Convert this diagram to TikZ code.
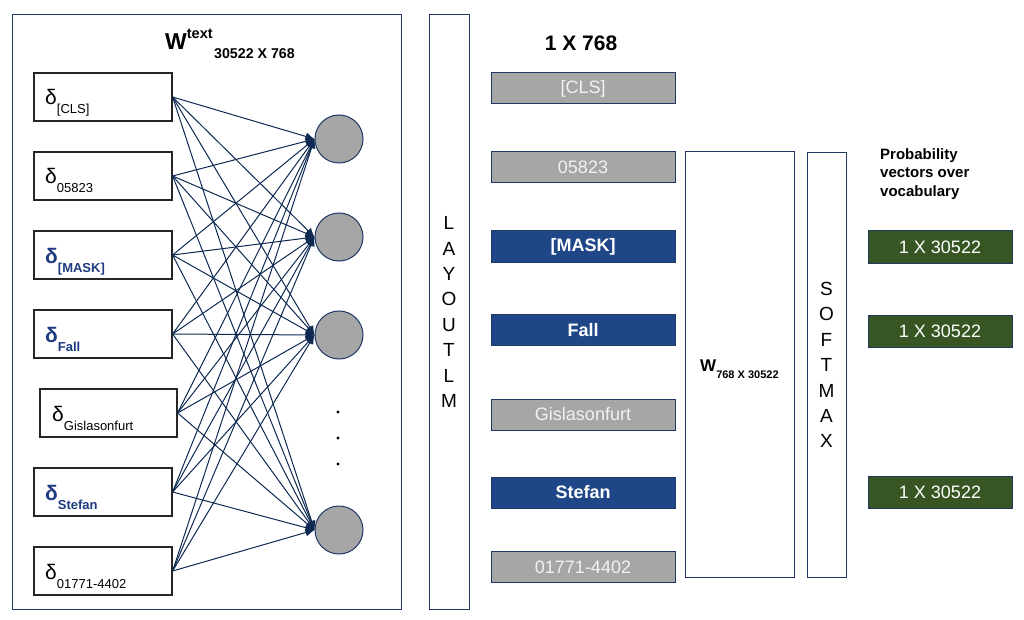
\documentclass[tikz,border=0pt]{standalone}
\usepackage{fontspec}
\setmainfont{Liberation Sans}
\usetikzlibrary{arrows.meta}
\definecolor{navy}{HTML}{1F3864}
\definecolor{edgecol}{HTML}{0E2A52}
\definecolor{tokblue}{HTML}{1F4788}
\definecolor{tokgray}{HTML}{A6A6A6}
\definecolor{toktext}{HTML}{F2F2F2}
\definecolor{probgreen}{HTML}{375623}
\definecolor{deltablue}{HTML}{1E3A80}
\newcommand\dsub[1]{\raisebox{-9pt}{\fontsize{13}{13}\selectfont #1}}
\newcommand\dsym{{\fontsize{21}{21}\selectfont δ}}
\begin{document}
\begin{tikzpicture}[x=1pt,y=-1pt,
  frame/.style={draw=navy, line width=1pt, inner sep=0pt},
  inbox/.style={draw=black!85, line width=1.2pt, minimum width=138pt, minimum height=48pt, inner sep=0pt},
  inlab/.style={anchor=base west, inner sep=0pt},
  bluelab/.style={inlab, text=deltablue, font=\bfseries},
  neuron/.style={circle, draw=navy, line width=1pt, fill=tokgray, minimum size=48pt, inner sep=0pt},
  edge/.style={draw=edgecol, line width=1pt, -{Latex[length=9pt,width=8pt]}},
  tokbase/.style={draw=navy, line width=1pt, minimum width=184pt, minimum height=31pt, inner sep=0pt, font=\fontsize{18}{18}\selectfont},
  tokg/.style={tokbase, fill=tokgray, text=toktext},
  tokb/.style={tokbase, fill=tokblue, text=white, font=\fontsize{18}{18}\selectfont\bfseries},
  probbox/.style={draw=navy, line width=1pt, fill=probgreen, text=white, minimum width=144pt, minimum height=32pt, inner sep=0pt, font=\fontsize{18}{18}\selectfont},
  vlet/.style={align=center, font=\fontsize{19}{25.4}\selectfont}
]
\useasboundingbox (0,0) rectangle (1024,620);
\fill[white] (0,0) rectangle (1024,620);

% left frame
\node[frame, minimum width=389pt, minimum height=594pt] (wframe) at (206.5,312) {};
\node[anchor=base west, inner sep=0pt] (wtitle) at (165,50)
  {{\fontsize{23}{23}\selectfont\bfseries W}\raisebox{11pt}{\fontsize{14.5}{14.5}\selectfont\bfseries text}\hspace{1.5pt}\raisebox{-9pt}{\fontsize{14.2}{14.2}\selectfont\bfseries 30522 X 768}};

% input boxes
\node[inbox] (in1) at (103,97) {};
\node[inbox] (in2) at (103,176) {};
\node[inbox] (in3) at (103,255) {};
\node[inbox] (in4) at (103,334) {};
\node[inbox, minimum width=137pt] (in5) at (108.5,413) {};
\node[inbox] (in6) at (103,492) {};
\node[inbox] (in7) at (103,571) {};

\node[inlab] (l1) at (45,105) {\dsym\dsub{[CLS]}};
\node[inlab] (l2) at (45,184) {\dsym\dsub{05823}};
\node[bluelab] (l3) at (45,263) {\dsym\dsub{[MASK]}};
\node[bluelab] (l4) at (45,342) {\dsym\dsub{Fall}};
\node[inlab] (l5) at (52,421) {\dsym\dsub{Gislasonfurt}};
\node[bluelab] (l6) at (45,500) {\dsym\dsub{Stefan}};
\node[inlab] (l7) at (45,579) {\dsym\dsub{01771-4402}};

% neurons
\node[neuron] (c1) at (339,139) {};
\node[neuron] (c2) at (339,237) {};
\node[neuron] (c3) at (339,335) {};
\node[neuron] (c4) at (339,530) {};

\foreach \i in {1,...,7}{
  \foreach \j in {1,...,4}{
    \draw[edge] (in\i.east) -- (c\j.west);
  }
}
\foreach \y in {412,438,464} \fill (338,\y) circle (1.6pt);

% LayoutLM
\node[frame, minimum width=40pt, minimum height=594pt, vlet] (layoutlm) at (449,312) {L\\A\\Y\\O\\U\\T\\L\\M};

% tokens
\node[font=\fontsize{21}{21}\selectfont\bfseries] (dimlab) at (581,43) {1 X 768};
\node[tokg] (t1) at (583,88.5) {[CLS]};
\node[tokg] (t2) at (583,167.5) {05823};
\node[tokb] (t3) at (583,246.5) {[MASK]};
\node[tokb] (t4) at (583,330) {Fall};
\node[tokg] (t5) at (583,414.5) {Gislasonfurt};
\node[tokb] (t6) at (583,492.5) {Stefan};
\node[tokg] (t7) at (583,567) {01771-4402};

% output matrix
\node[frame, minimum width=109pt, minimum height=425pt] (wout) at (739.5,364.5) {};
\node[anchor=base west, inner sep=0pt] (woutlab) at (700,371)
  {{\fontsize{17}{17}\selectfont\bfseries W}\raisebox{-7pt}{\fontsize{11}{11}\selectfont\bfseries 768 X 30522}};

% softmax
\node[frame, minimum width=39pt, minimum height=425pt, vlet] (softmax) at (826.5,365) {S\\O\\F\\T\\M\\A\\X};

% probability
\node[anchor=north west, inner sep=0pt, align=left, font=\fontsize{15}{18.5}\selectfont\bfseries] (problab) at (880,148)
  {Probability\\vectors over\\vocabulary};
\node[probbox] (p1) at (940,247) {1 X 30522};
\node[probbox] (p2) at (940,331) {1 X 30522};
\node[probbox] (p3) at (940,492.5) {1 X 30522};
\end{tikzpicture}
\end{document}
